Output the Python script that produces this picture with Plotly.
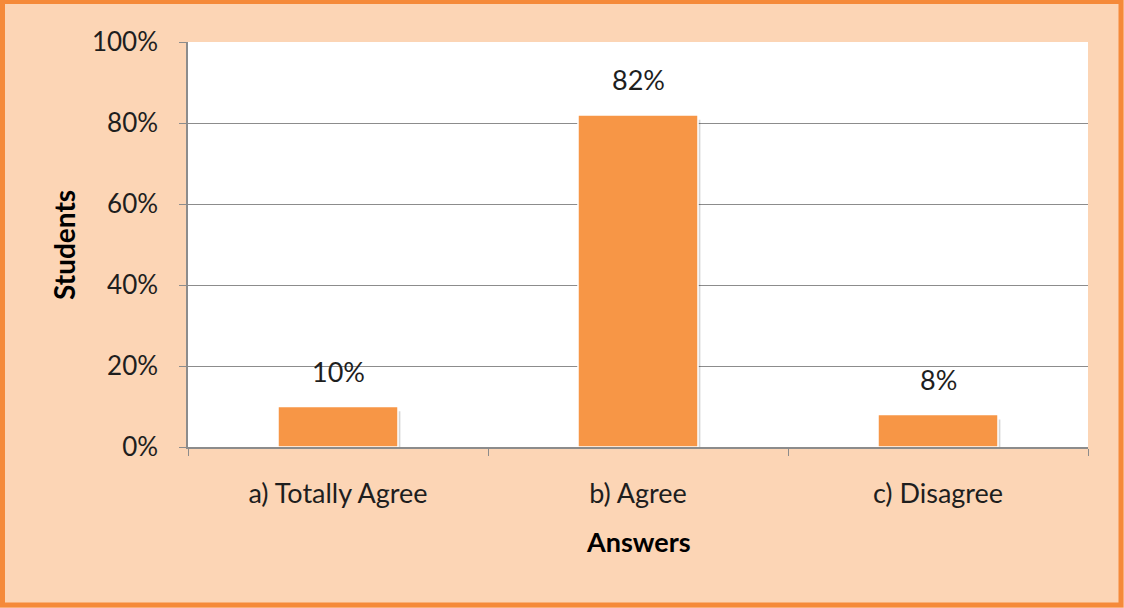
import plotly.graph_objects as go

# Survey answers and share of students
answers = ["a) Totally Agree", "b) Agree", "c) Disagree"]
shares = [0.10, 0.82, 0.08]
y_ticks = [0, 0.2, 0.4, 0.6, 0.8, 1.0]

W, H = 1124, 608
L, R, T, B = 188, 36, 42, 161
pw, ph = W - L - R, H - T - B

FONT = "Lato, Carlito, Calibri, sans-serif"
BAR = "#F79646"
BG = "#FCD5B5"
GRID = "#8C8C8C"
INK = "#1E1E1E"


def px_x(x):
    return (x - L) / pw


def px_y(y):
    return (H - B - y) / ph


fig = go.Figure()
# soft drop shadow behind each bar
fig.add_trace(go.Bar(
    x=answers, y=[v - 0.004 for v in shares], base=-0.008,
    width=0.405, offset=-0.197,
    marker=dict(color="rgba(0,0,0,0.16)", line=dict(width=0)),
    hoverinfo="skip",
))
fig.add_trace(go.Bar(
    x=answers, y=shares, width=0.4, offset=-0.2,
    marker=dict(color=BAR, line=dict(color="#FFFFFF", width=1.5)),
    hoverinfo="skip",
))

# value labels above bars
for a, v in zip(answers, shares):
    fig.add_annotation(x=a, y=v, text=f"{v:.0%}", showarrow=False,
                       yanchor="bottom", yshift=17,
                       font=dict(family=FONT, size=27, color=INK))

# axis titles
fig.add_annotation(xref="paper", yref="paper", x=0.5, y=px_y(541),
                   xanchor="center", yanchor="middle",
                   text="<b>Answers</b>", showarrow=False,
                   font=dict(family=FONT, size=27, color="#000000"))
fig.add_annotation(xref="paper", yref="paper", x=px_x(64), y=px_y(245),
                   xanchor="center", yanchor="middle",
                   text="<b>Students</b>", showarrow=False, textangle=-90,
                   font=dict(family=FONT, size=28, color="#000000"))

# orange frame around the chart
fig.add_shape(type="rect", xref="paper", yref="paper",
              x0=px_x(2.5), x1=px_x(W - 3), y0=px_y(H - 3), y1=px_y(1.5),
              line=dict(color="#F58A3A", width=5), fillcolor="rgba(0,0,0,0)",
              layer="below")

fig.update_layout(
    width=W, height=H,
    margin=dict(l=L, r=R, t=T, b=B),
    paper_bgcolor=BG, plot_bgcolor="#FFFFFF",
    showlegend=False, barmode="overlay",
    font=dict(family=FONT, size=27, color=INK),
    xaxis=dict(showline=True, linecolor=GRID, linewidth=1.5,
               ticks="outside", tickson="boundaries", ticklen=7,
               tickcolor=GRID, showgrid=False, fixedrange=True,
               ticklabelstandoff=22,
               tickfont=dict(size=27, color=INK)),
    yaxis=dict(range=[0, 1], tickvals=y_ticks, tickformat=".0%",
               showline=True, linecolor=GRID, linewidth=1.5,
               ticks="outside", ticklen=7, tickcolor=GRID,
               gridcolor=GRID, gridwidth=1, zeroline=False,
               ticklabelstandoff=16,
               tickfont=dict(size=26, color=INK), fixedrange=True),
)

fig.write_html("out.html")
